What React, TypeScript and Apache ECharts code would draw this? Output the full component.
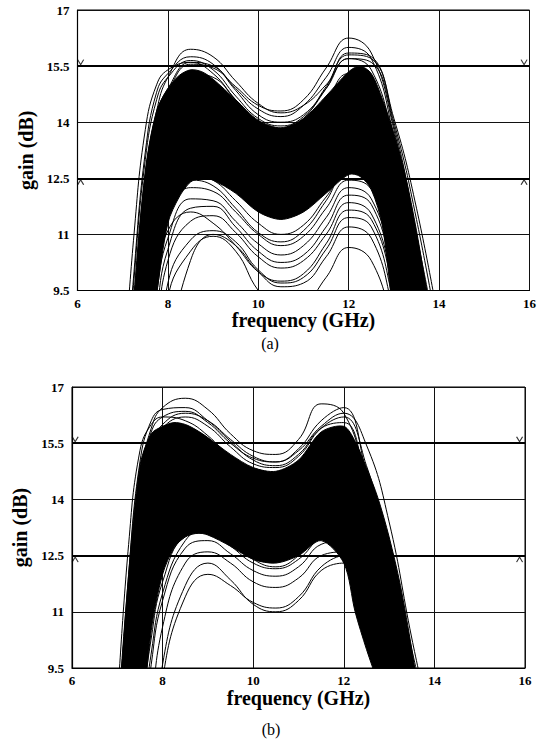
import React, { useEffect, useRef } from 'react';
import * as echarts from 'echarts';

// ---- axes ----
const xTicks = [6, 8, 10, 12, 14, 16];
const yTicks = [9.5, 11, 12.5, 14, 15.5, 17];
const specLimits = [15.5, 12.5];
const markerFreqs = [6.07, 15.88];
const panelLabels = ['(a)', '(b)'];
const xTitle = 'frequency (GHz)';
const yTitle = 'gain (dB)';

// ---- shared frequency grids (GHz) ----
const curveFreqs = [7.0, 7.25, 7.5, 7.75, 8.0, 8.5, 9.0, 9.5, 10.0, 10.5, 11.0, 11.5, 12.0, 12.5, 13.0, 13.5, 14.0];
const bandFreqs = [7.0, 7.25, 7.5, 7.75, 8.0, 8.25, 8.5, 8.75, 9.0, 9.5, 10.0, 10.5, 11.0, 11.5, 12.0, 12.25, 12.5, 12.75, 13.0, 13.25, 13.5, 13.75, 14.0];

// ---- panel (a): dense core envelope (dB) ----
const coreUpperA = [6.0, 9.3, 12.7, 14.3, 14.9, 15.25, 15.4, 15.35, 15.15, 14.6, 14.05, 13.85, 14.1, 14.7, 15.35, 15.5, 15.3, 14.6, 13.7, 12.6, 11.1, 9.3, 7.5];
const coreLowerA = [3.0, 5.0, 7.0, 9.4, 11.3, 12.0, 12.4, 12.5, 12.45, 12.1, 11.6, 11.4, 11.6, 12.1, 12.6, 12.55, 12.2, 11.2, 8.8, 7.5, 6.0, 5.0, 4.0];

// ---- panel (a): individual gain curves (dB) ----
const upperCurvesA = [
  [5.5, 9.4, 12.6, 14.3, 15.2, 15.95, 15.75, 15.1, 14.5, 14.25, 14.45, 15.0, 15.7, 15.4, 13.4, 10.4, 7.2],
  [5.0, 8.8, 12.2, 14.0, 14.8, 15.55, 15.45, 14.95, 14.45, 14.3, 14.6, 15.45, 16.25, 15.85, 13.8, 10.9, 7.8],
  [5.2, 9.0, 12.5, 14.2, 14.9, 15.6, 15.5, 14.9, 14.35, 14.15, 14.45, 15.2, 16.0, 15.7, 13.6, 10.6, 7.4],
  [6.0, 10.0, 13.2, 14.8, 15.3, 15.75, 15.55, 14.85, 14.2, 14.0, 14.2, 14.9, 15.7, 15.6, 13.9, 11.0, 7.9],
  [5.8, 9.8, 13.0, 14.6, 15.2, 15.65, 15.4, 14.7, 14.1, 13.9, 14.15, 14.9, 15.85, 15.75, 14.0, 11.4, 8.2],
  [5.0, 8.5, 11.8, 13.8, 14.6, 15.3, 15.2, 14.6, 14.0, 13.8, 14.1, 14.95, 15.8, 15.7, 14.1, 11.7, 8.6],
  [7.0, 11.0, 13.8, 15.0, 15.4, 15.6, 15.3, 14.6, 14.0, 13.8, 14.0, 14.6, 15.3, 15.0, 13.0, 10.1, 7.0],
];
const lowerCurvesA = [
  [2.0, 2.5, 3.0, 5.5, 9.3, 10.55, 10.95, 10.55, 9.5, 8.95, 9.1, 9.85, 10.65, 10.3, 8.4, 6.0, 4.0],
  [2.5, 3.0, 4.0, 6.8, 9.7, 10.85, 11.1, 10.8, 10.05, 9.7, 9.85, 10.6, 11.45, 11.2, 9.2, 6.8, 4.5],
  [3.0, 4.0, 5.5, 8.2, 10.3, 11.35, 11.5, 11.05, 10.4, 10.1, 10.3, 11.0, 11.85, 11.55, 9.6, 7.0, 4.8],
  [3.5, 5.0, 7.0, 9.4, 10.9, 11.95, 11.9, 11.35, 10.75, 10.45, 10.7, 11.45, 12.25, 11.95, 10.0, 7.4, 5.0],
  [3.0, 4.5, 6.5, 8.9, 10.6, 11.7, 11.75, 11.2, 10.55, 10.25, 10.45, 11.2, 12.05, 11.8, 9.8, 7.2, 4.9],
  [4.0, 6.0, 8.0, 10.2, 11.5, 12.25, 12.15, 11.6, 11.0, 10.7, 10.95, 11.7, 12.45, 12.2, 10.4, 7.8, 5.2],
  [3.8, 5.5, 7.6, 9.8, 11.1, 11.6, 11.3, 10.7, 10.0, 9.75, 9.95, 10.75, 11.65, 11.4, 9.5, 7.0, 4.6],
  [2.0, 2.5, 3.0, 4.5, 7.5, 10.3, 11.0, 10.7, 10.0, 9.6, 9.7, 10.4, 11.2, 10.9, 8.9, 6.5, 4.3],
  [4.5, 6.5, 8.8, 10.9, 12.0, 12.6, 12.45, 11.9, 11.3, 11.0, 11.25, 12.0, 12.7, 12.4, 10.6, 8.0, 5.4],
  [4.0, 6.2, 8.5, 10.6, 11.8, 12.45, 12.3, 11.7, 11.05, 10.8, 11.1, 11.9, 12.75, 12.5, 10.8, 8.2, 5.5],
];

// ---- panel (b): dense core envelope (dB) ----
const coreUpperB = [7.5, 12.0, 14.9, 15.75, 15.95, 16.05, 16.0, 15.85, 15.65, 15.2, 14.85, 14.75, 15.05, 15.8, 15.95, 15.55, 14.85, 14.05, 13.0, 11.7, 10.0, 8.0, 6.0];
const coreLowerB = [3.0, 4.5, 7.5, 10.5, 12.0, 12.7, 13.0, 13.1, 13.05, 12.75, 12.4, 12.3, 12.5, 12.9, 12.3, 11.0, 10.0, 9.1, 8.0, 7.0, 6.0, 5.0, 4.0];

// ---- panel (b): individual gain curves (dB) ----
const upperCurvesB = [
  [7.0, 11.5, 14.6, 15.9, 16.45, 16.7, 16.4, 15.75, 15.3, 15.2, 15.6, 16.55, 16.3, 14.5, 12.3, 9.8, 7.2],
  [6.5, 10.8, 14.0, 15.4, 16.0, 16.3, 16.1, 15.6, 15.15, 15.0, 15.3, 15.95, 16.3, 15.45, 13.4, 10.3, 7.5],
  [7.5, 12.0, 15.0, 16.1, 16.4, 16.45, 16.1, 15.55, 15.05, 14.9, 15.2, 15.9, 16.05, 14.3, 11.8, 9.2, 6.5],
  [6.8, 11.2, 14.5, 15.8, 16.2, 16.35, 16.05, 15.5, 15.1, 15.0, 15.35, 16.1, 16.45, 14.7, 12.4, 9.7, 7.0],
  [8.5, 12.8, 15.3, 16.0, 16.2, 16.1, 15.7, 15.1, 14.6, 14.5, 14.8, 15.5, 15.6, 13.6, 11.0, 8.4, 5.8],
  [6.0, 10.2, 13.6, 15.2, 15.9, 16.2, 15.95, 15.4, 14.95, 14.85, 15.15, 15.9, 16.2, 14.9, 12.7, 10.0, 7.3],
];
const lowerCurvesB = [
  [2.0, 2.5, 3.5, 6.5, 9.6, 11.7, 12.3, 11.85, 11.2, 11.0, 11.3, 12.1, 12.3, 10.4, 7.9, 5.5, 3.5],
  [2.5, 3.5, 5.5, 8.3, 10.6, 12.3, 12.6, 12.3, 11.8, 11.65, 11.9, 12.5, 12.6, 10.7, 8.2, 5.8, 3.8],
  [3.0, 4.5, 7.0, 9.6, 11.3, 12.7, 12.9, 12.55, 12.1, 11.95, 12.2, 12.8, 12.9, 11.0, 8.5, 6.0, 4.0],
  [3.5, 5.5, 8.0, 10.3, 11.8, 13.0, 13.1, 12.75, 12.3, 12.15, 12.4, 13.0, 13.2, 11.3, 8.8, 6.2, 4.2],
  [3.0, 5.0, 7.5, 9.9, 11.5, 12.9, 13.2, 12.9, 12.4, 12.2, 12.5, 13.2, 13.4, 11.6, 9.0, 6.4, 4.3],
  [2.0, 2.5, 3.5, 5.8, 9.2, 11.4, 12.0, 11.7, 11.25, 11.1, 11.4, 12.2, 12.5, 10.6, 8.1, 5.7, 3.7],
  [4.0, 6.5, 9.0, 11.2, 12.4, 13.4, 13.5, 13.1, 12.7, 12.55, 12.8, 13.4, 13.5, 11.8, 9.3, 6.6, 4.4],
];

const SERIF = "'Liberation Serif', 'Times New Roman', serif";

function curveSeries(vals: number[], idx: number) {
  return {
    type: 'line',
    xAxisIndex: idx,
    yAxisIndex: idx,
    data: curveFreqs.map((f, i) => [f, vals[i]]),
    smooth: 0.45,
    symbol: 'none',
    showSymbol: false,
    clip: true,
    silent: true,
    z: 3,
    lineStyle: { color: '#000', width: 1 },
  };
}

function bandSeries(lower: number[], upper: number[], idx: number) {
  return {
    type: 'custom',
    xAxisIndex: idx,
    yAxisIndex: idx,
    clip: true,
    silent: true,
    z: 2,
    data: [[10, 12]],
    renderItem: (_params: any, api: any) => {
      const pts: number[][] = [];
      for (let i = 0; i < bandFreqs.length; i++) pts.push(api.coord([bandFreqs[i], upper[i]]));
      for (let i = bandFreqs.length - 1; i >= 0; i--) pts.push(api.coord([bandFreqs[i], lower[i]]));
      return {
        type: 'polygon',
        shape: { points: pts, smooth: 0.3 },
        style: { fill: '#000', stroke: '#000', lineWidth: 1 },
      };
    },
  };
}

function specSeries(idx: number) {
  return [
    {
      type: 'line',
      xAxisIndex: idx,
      yAxisIndex: idx,
      data: [],
      silent: true,
      z: 4,
      markLine: {
        silent: true,
        symbol: ['none', 'none'],
        label: { show: false },
        lineStyle: { color: '#000', width: 2, type: 'solid' },
        data: specLimits.map((v) => ({ yAxis: v })),
      },
    },
    {
      type: 'scatter',
      xAxisIndex: idx,
      yAxisIndex: idx,
      silent: true,
      z: 5,
      data: markerFreqs.map((f) => [f, specLimits[0]]),
      symbol: 'path://M0,0L5,7L10,0',
      symbolSize: [6, 5],
      symbolOffset: [0, -4],
      itemStyle: { color: 'none', borderColor: '#000', borderWidth: 1.1 },
    },
    {
      type: 'scatter',
      xAxisIndex: idx,
      yAxisIndex: idx,
      silent: true,
      z: 5,
      data: markerFreqs.map((f) => [f, specLimits[1]]),
      symbol: 'path://M0,7L5,0L10,7',
      symbolSize: [6, 5],
      symbolOffset: [0, 4],
      itemStyle: { color: 'none', borderColor: '#000', borderWidth: 1.1 },
    },
  ];
}

function xAxisDef(idx: number) {
  return {
    gridIndex: idx,
    type: 'value',
    min: xTicks[0],
    max: xTicks[xTicks.length - 1],
    interval: xTicks[1] - xTicks[0],
    axisLine: { show: true, onZero: false, lineStyle: { color: '#000', width: 1.2 } },
    axisTick: { show: false },
    axisLabel: { color: '#000', fontFamily: SERIF, fontWeight: 'bold', fontSize: 13, margin: 6 },
    splitLine: { show: true, lineStyle: { color: '#111', width: 1 } },
    name: xTitle,
    nameLocation: 'middle',
    nameGap: 19,
    nameTextStyle: { color: '#000', fontFamily: SERIF, fontWeight: 'bold', fontSize: 20 },
  };
}

function yAxisDef(idx: number) {
  return {
    gridIndex: idx,
    type: 'value',
    min: yTicks[0],
    max: yTicks[yTicks.length - 1],
    interval: yTicks[1] - yTicks[0],
    axisLine: { show: true, onZero: false, lineStyle: { color: '#000', width: 1.2 } },
    axisTick: { show: false },
    axisLabel: { color: '#000', fontFamily: SERIF, fontWeight: 'bold', fontSize: 13, margin: 8 },
    splitLine: { show: true, lineStyle: { color: '#111', width: 1 } },
    name: yTitle,
    nameLocation: 'middle',
    nameRotate: 90,
    nameGap: 42,
    nameTextStyle: { color: '#000', fontFamily: SERIF, fontWeight: 'bold', fontSize: 20 },
  };
}

function buildOption() {
  const series: any[] = [
    bandSeries(coreLowerA, coreUpperA, 0),
    ...upperCurvesA.map((c) => curveSeries(c, 0)),
    ...lowerCurvesA.map((c) => curveSeries(c, 0)),
    ...specSeries(0),
    bandSeries(coreLowerB, coreUpperB, 1),
    ...upperCurvesB.map((c) => curveSeries(c, 1)),
    ...lowerCurvesB.map((c) => curveSeries(c, 1)),
    ...specSeries(1),
  ];
  return {
    animation: false,
    backgroundColor: '#fff',
    grid: [
      { left: 77.5, top: 10, width: 452.5, height: 280.5, show: true, borderColor: '#000', borderWidth: 1 },
      { left: 72, top: 387, width: 453, height: 281, show: true, borderColor: '#000', borderWidth: 1 },
    ],
    xAxis: [xAxisDef(0), xAxisDef(1)],
    yAxis: [yAxisDef(0), yAxisDef(1)],
    graphic: [
      { type: 'text', x: 270, y: 343, style: { text: panelLabels[0], fill: '#000', font: `16px ${SERIF}`, align: 'center', verticalAlign: 'middle' } },
      { type: 'text', x: 271, y: 729, style: { text: panelLabels[1], fill: '#000', font: `16px ${SERIF}`, align: 'center', verticalAlign: 'middle' } },
    ],
    series,
  };
}

export default function App() {
  const ref = useRef<HTMLDivElement>(null);
  useEffect(() => {
    if (!ref.current) return;
    const chart = echarts.init(ref.current, null, { renderer: 'svg' });
    chart.setOption(buildOption() as any);
    return () => chart.dispose();
  }, []);
  return (
    <div
      ref={ref}
      style={{ position: 'absolute', left: 0, top: 0, width: 539, height: 740, background: '#fff' }}
    />
  );
}
